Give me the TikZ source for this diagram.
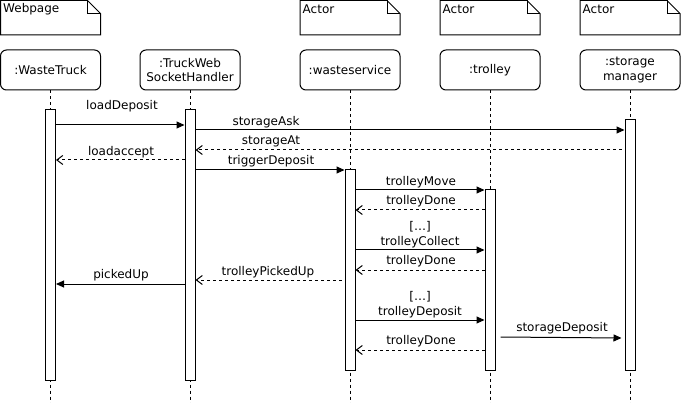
\documentclass[tikz,border=0pt]{standalone}
\usepackage{fontspec}
\setmainfont{DejaVu Sans}
\usetikzlibrary{arrows.meta}
\begin{document}
\begin{tikzpicture}[x=1pt,y=-1pt,
  every node/.style={font=\fontsize{12}{14.5}\selectfont, inner sep=0pt},
  notebox/.style={line width=1pt, line join=miter},
  headbox/.style={draw, rounded corners=6pt, minimum width=100pt, minimum height=40pt, align=center, line width=1pt},
  actbar/.style={draw, fill=white, minimum width=10pt, line width=1pt},
  lifeline/.style={dash pattern=on 3pt off 3pt, line width=1pt},
  syncmsg/.style={-{Triangle[length=8pt,width=7pt]}, line width=1pt},
  retmsg/.style={-{Straight Barb[length=6pt,width=9pt]}, dash pattern=on 3pt off 3pt, line width=1pt},
  lbl/.style={align=center, yshift=-1.5pt}]
\useasboundingbox (0,0) rectangle (682,403);
% notes
\foreach \x/\t in {0.5/Webpage,300/Actor,440/Actor,580/Actor}{
  \draw[notebox] (\x,0.5) -- (\x+87,0.5) -- (\x+100,13.5) -- (\x+100,35) -- (\x,35) -- cycle;
  \draw[notebox] (\x+87,0.5) -- (\x+87,13.5) -- (\x+100,13.5);
  \node[anchor=west] (note\x) at (\x+2.5,9.5) {\t};
}
% heads
\node[headbox] (hwt) at (50.5,70) {:WasteTruck};
\node[headbox] (htw) at (190,70) {:TruckWeb\\SocketHandler};
\node[headbox] (hws) at (350,70) {:wasteservice};
\node[headbox] (htr) at (490,70) {:trolley};
\node[headbox] (hsm) at (630,70) {:storage\\manager};
% lifeline ends
\coordinate (ewt) at (50.5,403);
\coordinate (etw) at (190,403);
\coordinate (ews) at (350,403);
\coordinate (etr) at (490,403);
\coordinate (esm) at (630,403);
\foreach \h/\e in {hwt/ewt,htw/etw,hws/ews,htr/etr,hsm/esm}{
  \draw[lifeline] (\h.south) -- (\e);
}
% activations
\node[actbar, minimum height=270pt] (awt) at (50.5,245) {};
\node[actbar, minimum height=270pt] (atw) at (190,245) {};
\node[actbar, minimum height=200pt] (aws) at (350,270) {};
\node[actbar, minimum height=180pt] (atr) at (490,280) {};
\node[actbar, minimum height=250pt] (asm) at (630,245) {};
% messages
\draw[syncmsg] (awt.east |- 0,125) -- (atw.west |- 0,125);
\node[lbl] (l1) at (122,105) {loadDeposit};
\draw[syncmsg] (atw.east |- 0,130) -- (asm.west |- 0,130);
\node[lbl] (l2) at (266,121) {storageAsk};
\draw[retmsg] ([xshift=-3pt]asm.west |- 0,150) -- (atw.east |- 0,150);
\node[lbl] (l3) at (271,140) {storageAt};
\draw[retmsg] (atw.west |- 0,160) -- (awt.east |- 0,160);
\node[lbl] (l4) at (121,151) {loadaccept};
\draw[syncmsg] (atw.east |- 0,170) -- (aws.west |- 0,170);
\node[lbl] (l5) at (271,160) {triggerDeposit};
\draw[syncmsg] (aws.east |- 0,190) -- (atr.west |- 0,190);
\node[lbl] (l6) at (421,181) {trolleyMove};
\draw[retmsg] (atr.west |- 0,210) -- (aws.east |- 0,210);
\node[lbl] (l7) at (421,200) {trolleyDone};
\draw[syncmsg] (aws.east |- 0,250) -- (atr.west |- 0,250);
\node[lbl] (l8) at (420,233) {[…]\\trolleyCollect};
\draw[retmsg] (atr.west |- 0,270) -- (aws.east |- 0,270);
\node[lbl] (l9) at (421,260) {trolleyDone};
\draw[retmsg] ([xshift=-3pt]aws.west |- 0,280) -- (atw.east |- 0,280);
\node[lbl] (l10) at (268,271) {trolleyPickedUp};
\draw[syncmsg] (atw.west |- 0,284) -- (awt.east |- 0,284);
\node[lbl] (l11) at (121,274) {pickedUp};
\draw[syncmsg] (aws.east |- 0,320) -- (atr.west |- 0,320);
\node[lbl] (l12) at (420,303) {[…]\\trolleyDeposit};
\draw[syncmsg] ([xshift=5pt]atr.east |- 0,337) -- ([xshift=-3pt]asm.west |- 0,338);
\node[lbl] (l13) at (562,327) {storageDeposit};
\draw[retmsg] (atr.west |- 0,350) -- (aws.east |- 0,350);
\node[lbl] (l14) at (421,340) {trolleyDone};
\end{tikzpicture}
\end{document}
